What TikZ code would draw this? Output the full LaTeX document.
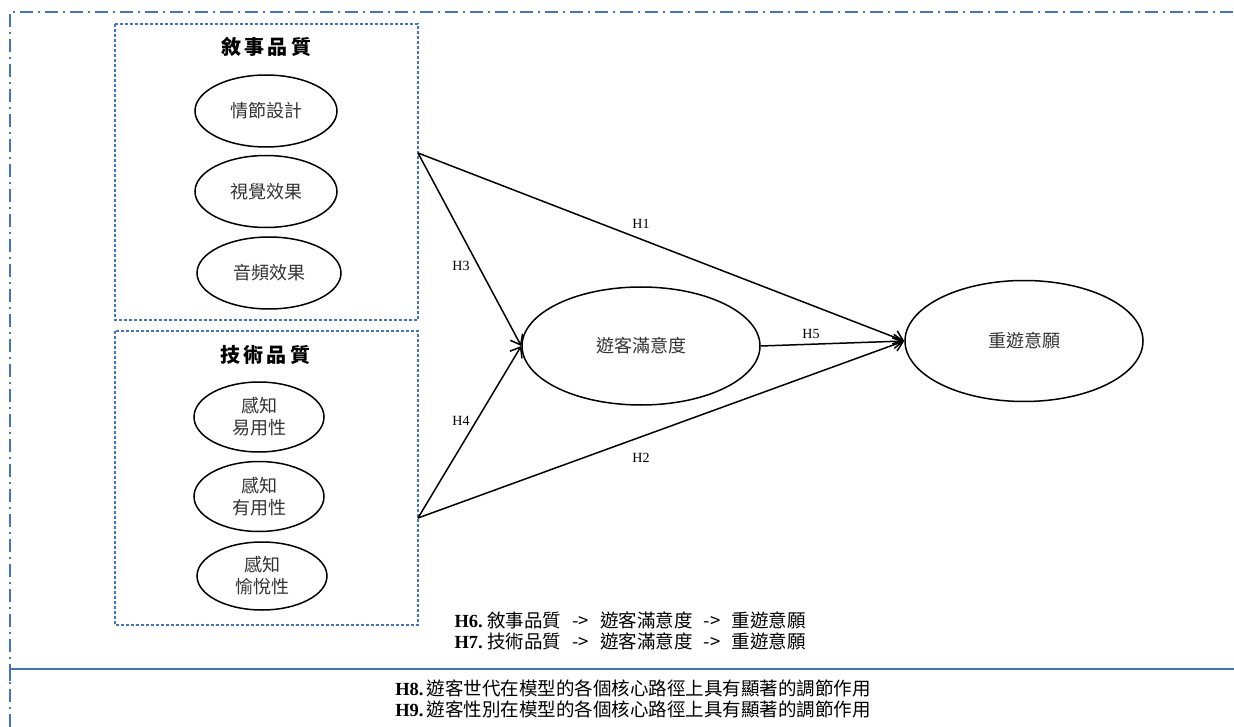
\documentclass[tikz,border=0pt]{standalone}
\usepackage{fontspec}
\setmainfont{Liberation Serif}
\newfontfamily\cjk{Noto Sans CJK TC}
\usetikzlibrary{shapes.geometric,positioning,arrows.meta}
\definecolor{frameblue}{HTML}{4472C4}

\begin{document}
\begin{tikzpicture}[x=1pt,y=-1pt,>={Straight Barb[length=9pt,width=14pt]},
		item/.style={ellipse,draw,line width=1.5pt,minimum width=142pt,minimum height=72pt,inner sep=0pt,align=center,font=\cjk\fontsize{18}{22}\selectfont,text=black!80},
		construct/.style={ellipse,draw,line width=1.5pt,minimum width=238pt,minimum height=118pt,inner sep=0pt,font=\cjk\fontsize{18}{22}\selectfont,text=black!80},
		group/.style={draw=frameblue,line width=1.4pt,dash pattern=on 3pt off 2pt},
		title/.style={font=\cjk\bfseries\fontsize{20}{22}\selectfont},
		hyp/.style={font=\fontsize{14}{16}\selectfont},
		note/.style={font=\fontsize{18.5}{21}\selectfont},
		path/.style={->,line width=1.5pt}]
		\useasboundingbox (0,0) rectangle (1234,727);

		% outer frame
		\draw[frameblue,line width=1.5pt,dash pattern=on 13pt off 5pt on 2pt off 5pt] (10,727) -- (10,12) -- (1234,12);
		\draw[frameblue,line width=1.6pt] (10,681) -- (10,669) -- (1234,669);

		% narrative quality
		\draw[group] (115,24) rectangle (418,320);
		\node[title] (narr) at (266,47) {敘\,事\,品\,質};
		\node[item] (plot) at (266,111) {情節設計};
		\node[item] (visual) [below=7pt of plot] {視覺效果};
		\node[item,minimum width=144pt] (audio) [below=8pt of visual,xshift=3pt] {音頻效果};

		% technical quality
		\draw[group] (115,331) rectangle (418,625);
		\node[title] (tech) at (265,355) {技\,術\,品\,質};
		\node[item,minimum width=130pt,minimum height=70pt] (ease) at (259,417) {感知\\易用性};
		\node[item,minimum width=130pt,minimum height=70pt] (useful) [below=8pt of ease] {感知\\有用性};
		\node[item,minimum width=130pt,minimum height=68pt] (enjoy) [below=9pt of useful,xshift=3pt] {感知\\愉悅性};

		% constructs
		\node[construct] (sat) at (641,346) {遊客滿意度};
		\node[construct,minimum height=121pt] (rev) at (1024,341) {重遊意願};

		\coordinate (n1) at (418,153);
		\coordinate (t1) at (418,518);

		\draw[path] (n1) -- (sat.west);
		\draw[path] (t1) -- (sat.west);
		\draw[path] (n1) -- (rev.west);
		\draw[path] (t1) -- (rev.west);
		\draw[path] (sat.east) -- (rev.west);

		\node[hyp] (h1) at (641,224) {H1};
		\node[hyp] (h2) at (641,458) {H2};
		\node[hyp] (h3) at (461,266) {H3};
		\node[hyp] (h4) at (461,421) {H4};
		\node[hyp] (h5) at (811,334) {H5};

		% mediation and moderation
		\node[note,anchor=west] (h6) at (451,620) {\textbf{H6.}\ {\cjk 敘事品質\hspace{0.6em}->\hspace{0.6em}遊客滿意度\hspace{0.6em}->\hspace{0.6em}重遊意願}};
		\node[note,anchor=west] (h7) at (451,641) {\textbf{H7.}\ {\cjk 技術品質\hspace{0.6em}->\hspace{0.6em}遊客滿意度\hspace{0.6em}->\hspace{0.6em}重遊意願}};
		\node[note] (h8) at (633,688) {\textbf{H8.}\,{\cjk 遊客世代在模型的各個核心路徑上具有顯著的調節作用}};
		\node[note] (h9) at (633,709) {\textbf{H9.}\,{\cjk 遊客性別在模型的各個核心路徑上具有顯著的調節作用}};
	\end{tikzpicture}
\end{document}
